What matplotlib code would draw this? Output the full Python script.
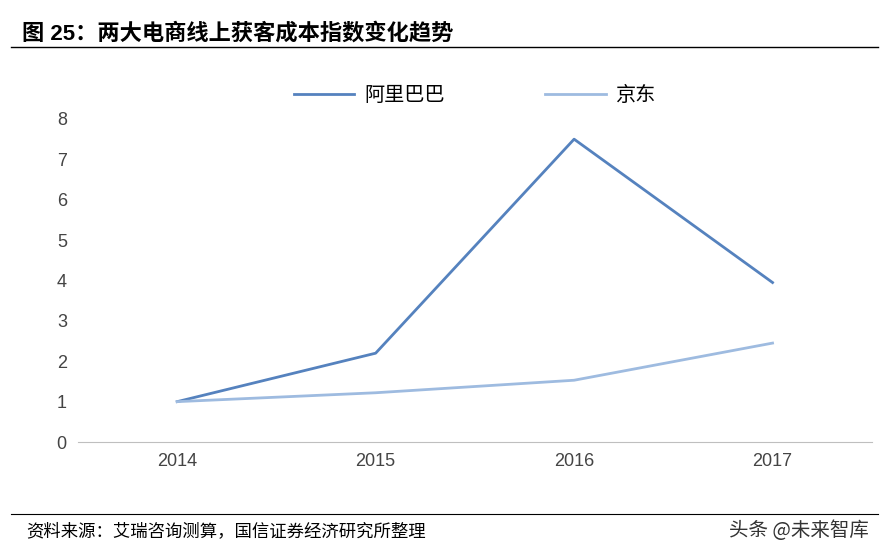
import matplotlib.pyplot as plt
from matplotlib.lines import Line2D

plt.rcParams['font.family'] = ['Liberation Sans', 'Noto Sans CJK SC', 'DejaVu Sans']

years = ["2014", "2015", "2016", "2017"]
alibaba = [1.0, 2.2, 7.5, 3.95]
jd = [1.0, 1.22, 1.53, 2.45]

fig = plt.figure(figsize=(8.82, 5.56), dpi=100)
ax = fig.add_axes([0.0884, 0.205, 0.900, 0.581])

x = range(len(years))
ax.plot(x, alibaba, color="#5582BE", lw=2, label="阿里巴巴")
ax.plot(x, jd, color="#9EBBE0", lw=2, label="京东")

ax.set_xlim(-0.5, 3.5)
ax.set_ylim(0, 8)
ax.set_xticks(list(x))
ax.set_xticklabels(years)
ax.set_yticks(range(0, 9))
ax.tick_params(length=0, labelsize=13, colors="#444444", pad=8)
for s in ["top", "right", "left"]:
    ax.spines[s].set_visible(False)
ax.spines["bottom"].set_color("#BFBFBF")

ax.legend(loc="upper center", bbox_to_anchor=(0.5, 1.16), ncol=2, frameon=False,
          handlelength=3.0, columnspacing=5.0, handletextpad=0.5,
          prop={'family': ['Noto Sans CJK SC'], 'size': 14.5})

fig.text(0.025, 0.94, "图 25：两大电商线上获客成本指数变化趋势", fontsize=16,
         fontweight="bold", family=['Liberation Sans', 'Noto Sans CJK SC'], va="center")
fig.add_artist(Line2D([0.012, 0.995], [0.915, 0.915], color="black", lw=1))
fig.add_artist(Line2D([0.012, 0.995], [0.075, 0.075], color="black", lw=0.8))
fig.text(0.03, 0.045, "资料来源：艾瑞咨询测算，国信证券经济研究所整理", fontsize=12.5,
         family=['Noto Sans CJK SC'], va="center")
fig.text(0.985, 0.045, "头条 @未来智库", fontsize=14, color="#333333",
         family=['Noto Sans CJK SC'], ha="right", va="center")

fig.savefig("out.png", dpi=100)
